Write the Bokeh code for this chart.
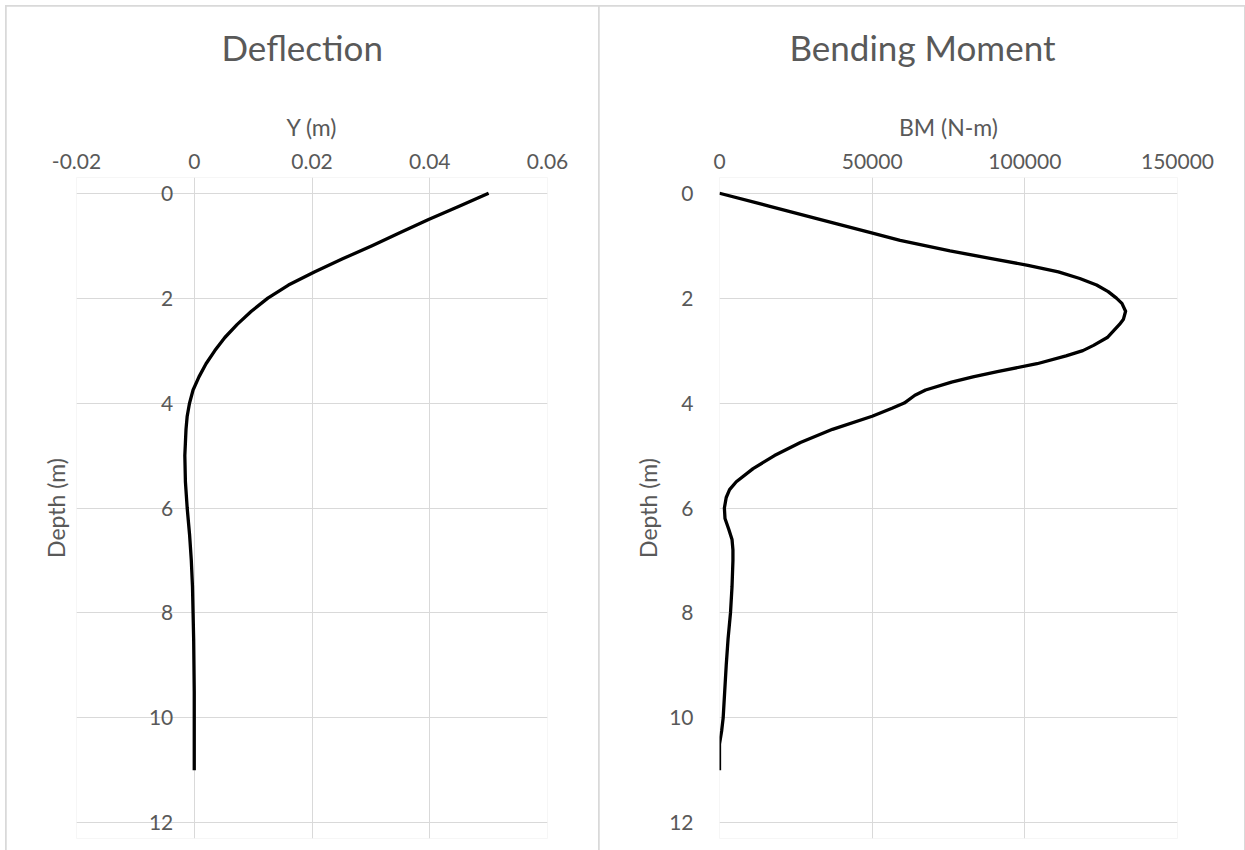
from bokeh.plotting import figure
from bokeh.models import (Range1d, FixedTicker, Title, LabelSet, ColumnDataSource,
                          LinearAxis)
from bokeh.core.properties import value
from bokeh.layouts import row
from bokeh.embed import file_html
from bokeh.resources import INLINE

# ---------------- data ----------------
defl_depth = [0, 0.25, 0.5, 0.75, 1.0, 1.25, 1.5, 1.75, 2.0, 2.25, 2.5, 2.75, 3.0, 3.25, 3.5, 3.75,
              4.0, 4.25, 4.5, 4.75, 5.0, 5.5, 6.0, 6.5, 7.0, 7.5, 8.0, 8.5, 9.0, 9.5, 10.0, 10.5, 11.0]
defl_y = [0.0500, 0.0450, 0.0398, 0.0350, 0.0302, 0.0252, 0.0204, 0.0160, 0.0125, 0.0097, 0.0073,
          0.0052, 0.0035, 0.0020, 0.0008, -0.0002, -0.0008, -0.0012, -0.0014, -0.0015, -0.0016,
          -0.0015, -0.0012, -0.0008, -0.0005, -0.0003, -0.0002, -0.0001, -0.00005, 0.0, 0.0, 0.0, 0.0]

bm_depth = [0, 0.25, 0.5, 0.75, 0.9, 1.1, 1.25, 1.375, 1.5, 1.625, 1.75, 1.875, 2.0, 2.1, 2.25,
            2.4, 2.5, 2.75, 2.9, 3.0, 3.1, 3.25, 3.4, 3.5, 3.6, 3.75, 3.85, 4.0, 4.1, 4.25, 4.5,
            4.75, 5.0, 5.25, 5.5, 5.65, 5.8, 6.0, 6.2, 6.4, 6.6, 6.8, 7.0, 7.5, 8.0, 8.5, 9.0,
            9.5, 10.0, 10.25, 10.5, 11.0]
bm_val = [0, 16500, 32800, 49500, 59150, 75500, 89500, 101000, 111000, 118000, 123500, 127300,
          130000, 131800, 133000, 132300, 131000, 127000, 122500, 119000, 113500, 104000, 91000,
          83000, 76000, 67500, 64000, 60500, 56500, 50000, 37000, 26500, 18000, 11000, 5500,
          3300, 2200, 1600, 1800, 3000, 4100, 4400, 4400, 4100, 3600, 2800, 2200, 1700, 1200,
          700, 0, 0]

depth_ticks = [0, 2, 4, 6, 8, 10, 12]
depth_tick_labels = ["0", "2", "4", "6", "8", "10", "12"]
defl_ticks = [-0.02, 0, 0.02, 0.04, 0.06]
defl_tick_labels = ["-0.02", "0", "0.02", "0.04", "0.06"]
bm_ticks = [0, 50000, 100000, 150000]
bm_tick_labels = ["0", "50000", "100000", "150000"]

titles = ["Deflection", "Bending Moment"]
x_labels = ["Y (m)", "BM (N-m)"]
y_label = "Depth (m)"

# ---------------- style ----------------
FONT = "Lato"
TXT = "#595959"
GRID = "#d9d9d9"
PAD = 0.3          # extra depth shown above/below the frame so edge tick labels are not clipped


def base_fig(width, left, right, xr, title, title_offset, ticks):
    p = figure(width=width, height=844, output_backend="svg", toolbar_location=None,
               x_range=xr, y_range=Range1d(depth_ticks[-1] + PAD, depth_ticks[0] - PAD),
               x_axis_location="above",
               min_border_left=left, min_border_right=right, min_border_top=171,
               min_border_bottom=12, title=title)
    p.outline_line_color = None
    p.background_fill_color = "white"
    p.border_fill_color = "white"
    p.title.text_font = FONT
    p.title.text_font_size = "35px"
    p.title.text_font_style = "normal"
    p.title.text_color = TXT
    p.title.align = "left"
    p.title.offset = title_offset
    p.title.standoff = 0
    for ax in p.axis:
        ax.major_tick_line_color = None
        ax.minor_tick_line_color = None
        ax.major_label_text_font = FONT
        ax.major_label_text_font_size = "21px"
        ax.major_label_text_color = TXT
        ax.axis_label_text_font = FONT
        ax.axis_label_text_font_size = "23px"
        ax.axis_label_text_font_style = "normal"
        ax.axis_label_text_color = TXT
        ax.axis_line_color = None
    p.xaxis.major_label_standoff = 3
    p.xaxis.axis_label_standoff = 10
    p.yaxis.ticker = FixedTicker(ticks=depth_ticks)
    p.yaxis.major_label_standoff = 20
    p.grid.grid_line_color = GRID
    p.grid.grid_line_width = 1
    p.ygrid.ticker = FixedTicker(ticks=depth_ticks)
    p.xgrid.bounds = (depth_ticks[0], depth_ticks[-1])
    # blank axis (white ticks, empty label) used only as a spacer between the
    # axis title and the chart title
    spacer = LinearAxis(ticker=FixedTicker(ticks=[ticks[0]]), axis_line_color=None,
                        major_tick_line_color="white", minor_tick_line_color=None,
                        major_tick_out=42, major_tick_in=0, major_label_standoff=0,
                        major_label_overrides={ticks[0]: ""})
    p.add_layout(spacer, "above")
    return p


# ---- left: deflection ----
p1 = base_fig(592, 70, 51, Range1d(defl_ticks[0], defl_ticks[-1]), titles[0], 145, defl_ticks)
p1.xaxis[0].axis_label = x_labels[0]
p1.xaxis[0].ticker = FixedTicker(ticks=defl_ticks)
p1.xgrid.ticker = FixedTicker(ticks=defl_ticks)
p1.xaxis[0].major_label_overrides = dict(zip(defl_ticks, defl_tick_labels))
p1.yaxis.visible = False
p1.add_layout(Title(text=y_label, align="center", text_font=FONT, text_font_size="23px",
                    text_font_style="normal", text_color=TXT, standoff=14), "left")
tick_src = ColumnDataSource(dict(x=[0] * len(depth_ticks), y=depth_ticks, text=depth_tick_labels))
p1.add_layout(LabelSet(x="x", y="y", text="text", source=tick_src, x_offset=-21,
                       text_align="right", text_baseline="middle", text_font=value(FONT),
                       text_font_size=value("21px"), text_color=TXT))
p1.line(defl_y, defl_depth, line_color="black", line_width=3.3, line_join="round")

# ---- right: bending moment ----
p2 = base_fig(645, 120, 67, Range1d(bm_ticks[0], bm_ticks[-1]), titles[1], 70, bm_ticks)
p2.xaxis[0].axis_label = x_labels[1]
p2.yaxis.axis_label = y_label
p2.yaxis.axis_label_standoff = 4
p2.xaxis[0].ticker = FixedTicker(ticks=bm_ticks)
p2.xgrid.ticker = FixedTicker(ticks=bm_ticks)
p2.xaxis[0].major_label_overrides = dict(zip(bm_ticks, bm_tick_labels))
p2.line(bm_val, bm_depth, line_color="black", line_width=3.3, line_join="round")

p1.margin = (1, 0, 0, 1)
p2.margin = (1, 1, 0, 1)
layout = row(p1, p2, spacing=0, margin=(5, 0, 0, 5),
             styles={"background-color": "#d9d9d9"})

open("out.html", "w").write(file_html(layout, INLINE))
